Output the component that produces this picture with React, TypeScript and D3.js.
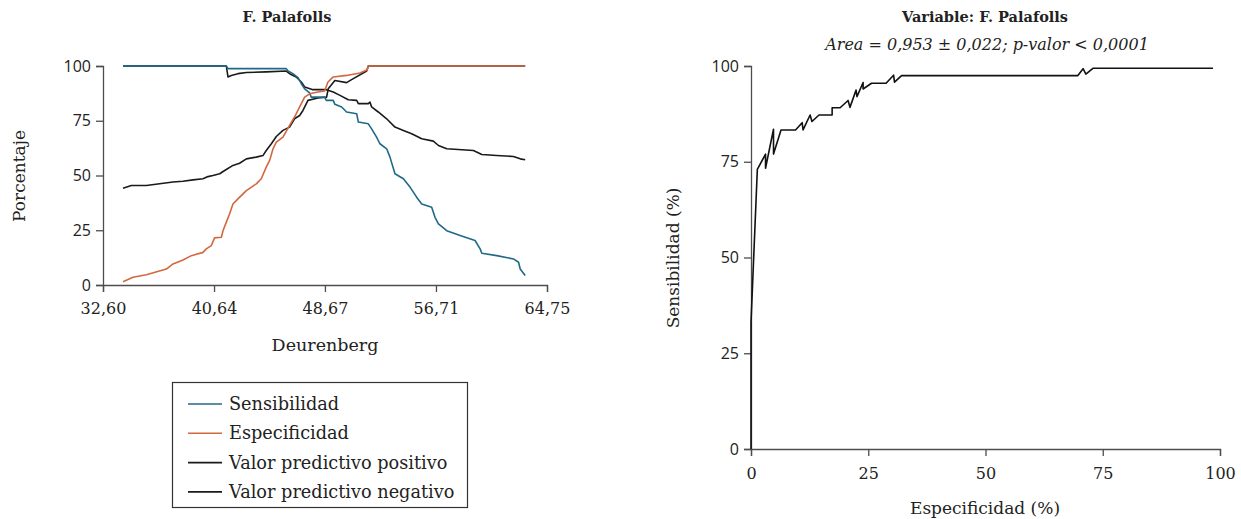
import React, { useRef, useEffect } from 'react';
import * as d3 from 'd3';

// ---- data ----
const cutTicks = [32.6, 40.64, 48.67, 56.71, 64.75];
const pctTicks = [0, 25, 50, 75, 100];

const sensibilidad: [number, number][] = [
  [34.05, 100], [41.53, 100], [41.65, 98.8], [45.87, 98.8], [46.0, 97.7], [46.35, 96.5],
  [46.72, 94.7], [46.96, 91.9], [47.2, 89.6], [47.56, 87.7], [47.68, 85.8], [48.65, 85.8],
  [48.77, 84.3], [49.27, 84.3], [49.39, 82.5], [49.88, 81.3], [50.24, 79], [50.97, 78.2],
  [51.09, 74.4], [51.81, 73.6], [52.05, 71.3], [52.41, 67.5], [52.65, 64.5], [53.14, 62.2],
  [53.38, 58.4], [53.74, 50.8], [54.35, 48.5], [54.83, 44.7], [55.31, 40.1], [55.68, 37],
  [56.4, 35.5], [56.64, 30.9], [56.89, 27.9], [57.49, 24.8], [58.46, 22.6], [59.54, 20.3],
  [59.91, 16.5], [60.03, 14.5], [61.11, 13.4], [62.32, 11.9], [62.69, 10.4], [62.81, 7.3],
  [63.17, 4.3]
];

const especificidad: [number, number][] = [
  [34.05, 1.5], [34.77, 3.5], [35.74, 4.7], [37.19, 7.3], [37.67, 9.6], [38.39, 11.4],
  [39.0, 13.4], [39.84, 14.9], [40.08, 16.5], [40.44, 18], [40.68, 21.5], [41.17, 21.8],
  [41.29, 24.8], [41.53, 28.7], [41.77, 32.5], [42.01, 37], [42.37, 39.3], [42.98, 43.1],
  [43.7, 46.2], [44.06, 48.5], [44.42, 53.8], [44.67, 56.9], [44.91, 62.2], [45.15, 65.2],
  [45.63, 67.5], [46.11, 72.9], [46.47, 76.7], [46.84, 81.3], [47.2, 85.8], [47.56, 87.3],
  [48.16, 88.1], [48.65, 88.6], [48.89, 92.7], [49.27, 95], [50.24, 95.7], [51.2, 96.8],
  [51.74, 98.3], [51.8, 100], [63.17, 100]
];

const vpp: [number, number][] = [
  [34.05, 44.2], [34.65, 45.4], [35.74, 45.4], [36.7, 46.2], [37.67, 47], [38.39, 47.4],
  [39.12, 48], [39.84, 48.5], [40.2, 49.5], [40.56, 50], [41.05, 50.8], [41.41, 52.3],
  [42.01, 54.6], [42.49, 55.6], [42.98, 57.6], [43.7, 58.4], [44.18, 59.1], [44.42, 61.4],
  [44.79, 64.5], [45.15, 67.8], [45.63, 70.6], [46.11, 72.1], [46.47, 75.9], [46.84, 77.4],
  [47.08, 79.7], [47.44, 84.3], [48.16, 85.4], [48.79, 85.8], [48.91, 89.6], [49.39, 93.4],
  [50.24, 92.4], [50.6, 93.8], [51.69, 97.7], [51.81, 100], [63.17, 100]
];

const vpn: [number, number][] = [
  [34.05, 100], [41.53, 100], [41.65, 95], [41.89, 95.7], [42.37, 96.5], [42.98, 97],
  [44.42, 97.3], [45.87, 97.7], [46.11, 96.5], [46.59, 95], [46.96, 92.7], [47.2, 90.4],
  [47.8, 89.2], [48.77, 89.2], [49.27, 88.1], [49.76, 86.6], [50.36, 84.6], [50.97, 84.3],
  [51.09, 82.8], [51.81, 82.8], [51.93, 83.5], [52.05, 81.3], [52.53, 79], [53.14, 75.9],
  [53.74, 72.1], [54.35, 70.6], [54.95, 69.1], [55.68, 66.8], [56.52, 65.7], [56.89, 63.7],
  [57.49, 62.2], [59.42, 61.4], [60.03, 59.6], [61.11, 59.1], [62.32, 58.7], [62.81, 57.6],
  [63.17, 57.2]
];

const seriesNames = ['Sensibilidad', 'Especificidad', 'Valor predictivo positivo', 'Valor predictivo negativo'];
const seriesColors = ['#1f6a87', '#d3683f', '#1a1a1a', '#1a1a1a'];

const roc: [number, number][] = [
  [0, 0], [0, 33], [1.35, 73], [3.1, 77], [3.1, 73.3], [4.8, 83.5], [4.8, 77], [6.4, 83.3],
  [9.5, 83.3], [10.9, 85.2], [11.1, 83.3], [12.6, 87.2], [13.0, 85.5], [14.5, 87.2],
  [17.3, 87.2], [17.3, 89.1], [19, 89.1], [20.7, 91], [21.1, 89.2], [22.4, 93.7],
  [22.6, 92], [23.9, 95.7], [23.9, 94], [25.7, 95.5], [28.8, 95.5], [30.4, 97.6],
  [30.6, 95.8], [32.1, 97.5], [69.7, 97.5], [70.8, 99.3], [71.4, 97.9], [72.9, 99.4],
  [98.5, 99.4]
];

const SERIF = '"DejaVu Serif", serif';
const SANS = '"Open Sans", sans-serif';
const AXIS = '#4d4d4d';

export default function App() {
  const ref = useRef<SVGSVGElement>(null);

  useEffect(() => {
    const svg = d3.select(ref.current);
    svg.selectAll('*').remove();

    const comma = (d: number, p: number) => d3.format('.' + p + 'f')(d).replace('.', ',');

    // ---------- left chart ----------
    const x1 = d3.scaleLinear().domain([32.6, 64.75]).range([103, 547]);
    const y1 = d3.scaleLinear().domain([0, 100]).range([285, 66]);

    const gx1 = svg.append('g').attr('transform', 'translate(0,285)')
      .call(d3.axisBottom(x1).tickValues(cutTicks).tickSize(7).tickPadding(11)
        .tickFormat(d => comma(+d, 2)));
    gx1.selectAll('text').attr('font-family', SERIF).attr('font-size', 16).attr('fill', '#222');

    const gy1 = svg.append('g').attr('transform', 'translate(103,0)')
      .call(d3.axisLeft(y1).tickValues(pctTicks).tickSize(7).tickPadding(5));
    gy1.selectAll('text').attr('font-family', SANS).attr('font-size', 16).attr('fill', '#222');

    [gx1, gy1].forEach(g => {
      g.select('.domain').attr('stroke', AXIS).attr('stroke-width', 1.3);
      g.selectAll('.tick line').attr('stroke', AXIS).attr('stroke-width', 1.3);
    });

    const line1 = d3.line<[number, number]>().x(d => x1(d[0])).y(d => y1(d[1]));
    const leftSeries = [vpn, vpp, sensibilidad, especificidad];
    const leftColors = [seriesColors[3], seriesColors[2], seriesColors[0], seriesColors[1]];
    leftSeries.forEach((s, i) => {
      svg.append('path').datum(s).attr('d', line1).attr('fill', 'none')
        .attr('stroke', leftColors[i]).attr('stroke-width', 1.6).attr('stroke-linejoin', 'round');
    });

    svg.append('text').attr('x', 287).attr('y', 22).attr('text-anchor', 'middle')
      .attr('font-family', SERIF).attr('font-weight', 'bold').attr('font-size', 14.5).attr('fill', '#222')
      .text('F. Palafolls');
    svg.append('text').attr('x', 325).attr('y', 351).attr('text-anchor', 'middle')
      .attr('font-family', SERIF).attr('font-size', 17.5).attr('fill', '#222').text('Deurenberg');
    svg.append('text').attr('transform', 'translate(25,176) rotate(-90)').attr('text-anchor', 'middle')
      .attr('font-family', SERIF).attr('font-size', 17).attr('fill', '#222').text('Porcentaje');

    // legend
    const lg = svg.append('g');
    lg.append('rect').attr('x', 172.5).attr('y', 382.5).attr('width', 295).attr('height', 125)
      .attr('fill', 'none').attr('stroke', '#333').attr('stroke-width', 1.2);
    seriesNames.forEach((name, i) => {
      const yy = 404 + i * 29.3;
      lg.append('line').attr('x1', 188).attr('x2', 222).attr('y1', yy).attr('y2', yy)
        .attr('stroke', seriesColors[i]).attr('stroke-width', 1.6);
      lg.append('text').attr('x', 229).attr('y', yy).attr('dy', '0.35em')
        .attr('font-family', SERIF).attr('font-size', 17.7).attr('fill', '#222').text(name);
    });

    // ---------- right chart ----------
    const x2 = d3.scaleLinear().domain([0, 100]).range([751, 1220]);
    const y2 = d3.scaleLinear().domain([0, 100]).range([449, 66]);

    const gx2 = svg.append('g').attr('transform', 'translate(0,449)')
      .call(d3.axisBottom(x2).tickValues(pctTicks).tickSize(7).tickPadding(12));
    gx2.selectAll('text').attr('font-family', SERIF).attr('font-size', 16).attr('fill', '#222');

    const gy2 = svg.append('g').attr('transform', 'translate(751,0)')
      .call(d3.axisLeft(y2).tickValues(pctTicks).tickSize(7).tickPadding(5));
    gy2.selectAll('text').attr('font-family', SANS).attr('font-size', 16).attr('fill', '#222');

    [gx2, gy2].forEach(g => {
      g.select('.domain').attr('stroke', AXIS).attr('stroke-width', 1.3);
      g.selectAll('.tick line').attr('stroke', AXIS).attr('stroke-width', 1.3);
    });

    const line2 = d3.line<[number, number]>().x(d => x2(d[0])).y(d => y2(d[1]));
    svg.append('path').datum(roc).attr('d', line2).attr('fill', 'none')
      .attr('stroke', '#111').attr('stroke-width', 1.6).attr('stroke-linejoin', 'round');

    svg.append('text').attr('x', 985).attr('y', 22).attr('text-anchor', 'middle')
      .attr('font-family', SERIF).attr('font-weight', 'bold').attr('font-size', 14.5).attr('fill', '#222')
      .text('Variable: F. Palafolls');
    svg.append('text').attr('x', 987).attr('y', 50).attr('text-anchor', 'middle')
      .attr('font-family', SERIF).attr('font-style', 'italic').attr('font-size', 16).attr('fill', '#222')
      .text('Area = 0,953 ± 0,022; p-valor < 0,0001');
    svg.append('text').attr('x', 985).attr('y', 514).attr('text-anchor', 'middle')
      .attr('font-family', SERIF).attr('font-size', 17).attr('fill', '#222').text('Especificidad (%)');
    svg.append('text').attr('transform', 'translate(679,258) rotate(-90)').attr('text-anchor', 'middle')
      .attr('font-family', SERIF).attr('font-size', 17).attr('fill', '#222').text('Sensibilidad (%)');
  }, []);

  return (
    <svg ref={ref} width={1241} height={519}
      style={{ position: 'absolute', left: 0, top: 0, background: '#fff', display: 'block' }} />
  );
}
